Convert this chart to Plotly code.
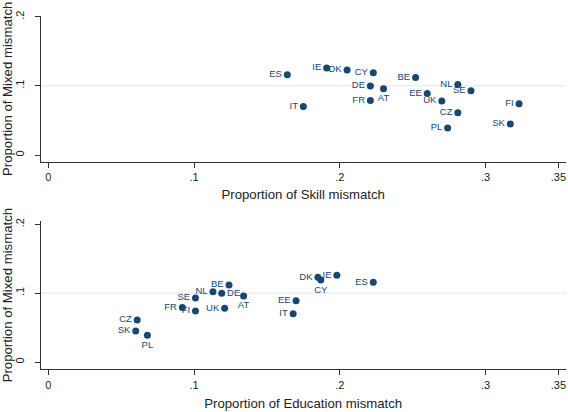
import plotly.graph_objects as go

countries = ["AT", "BE", "CY", "CZ", "DE", "DK", "EE", "ES", "FI", "FR",
             "IE", "IT", "NL", "PL", "SE", "SK", "UK"]
mixed_mismatch = [0.096, 0.112, 0.119, 0.061, 0.100, 0.123, 0.089, 0.116, 0.074, 0.079,
                  0.126, 0.070, 0.102, 0.039, 0.093, 0.045, 0.078]
skill_mismatch = [0.230, 0.252, 0.223, 0.281, 0.221, 0.205, 0.260, 0.164, 0.323, 0.221,
                  0.191, 0.175, 0.281, 0.274, 0.290, 0.317, 0.270]
education_mismatch = [0.134, 0.124, 0.187, 0.061, 0.119, 0.185, 0.170, 0.223, 0.101, 0.092,
                      0.198, 0.168, 0.113, 0.068, 0.101, 0.060, 0.121]
x_tickvals = [0, 0.1, 0.2, 0.3, 0.35]
x_ticktext = ["0", ".1", ".2", ".3", ".35"]
y_tickvals = [0, 0.1, 0.2]
y_ticktext = ["0", ".1", ".2"]

NAVY = "#1a476f"
FONT = "Arial, Liberation Sans, sans-serif"

top_label_pos = {"AT": "bottom center"}
bottom_label_pos = {"PL": "bottom center", "AT": "bottom center",
                    "CY": "bottom center", "DE": "middle right"}

def positions(special):
    return [special.get(c, "middle left") for c in countries]

fig = go.Figure()
fig.add_trace(go.Scatter(
    x=skill_mismatch, y=mixed_mismatch, text=countries, mode="markers+text",
    textposition=positions(top_label_pos),
    marker=dict(color=NAVY, size=7), textfont=dict(color=NAVY, size=9.5, family=FONT),
    xaxis="x", yaxis="y", showlegend=False, cliponaxis=False, hoverinfo="skip"))
fig.add_trace(go.Scatter(
    x=education_mismatch, y=mixed_mismatch, text=countries, mode="markers+text",
    textposition=positions(bottom_label_pos),
    marker=dict(color=NAVY, size=7), textfont=dict(color=NAVY, size=9.5, family=FONT),
    xaxis="x2", yaxis="y2", showlegend=False, cliponaxis=False, hoverinfo="skip"))

xdom = [40.7 / 568, 565.7 / 568]
axis_common = dict(showline=True, linecolor="#333", linewidth=1, ticks="outside",
                   ticklen=5, tickcolor="#333", showgrid=False, zeroline=False,
                   automargin=False,
                   tickfont=dict(size=11, family=FONT, color="#222"))
xtitle_font = dict(size=13.2, family=FONT, color="#222")

fig.update_layout(
    width=568, height=412, margin=dict(l=0, r=0, t=0, b=0),
    paper_bgcolor="white", plot_bgcolor="white",
    font=dict(family=FONT, color="#222"),
    xaxis=dict(domain=xdom, range=[-0.0052, 0.355], anchor="y",
               tickvals=x_tickvals, ticktext=x_ticktext,
               title=dict(text="Proportion of Skill mismatch", font=xtitle_font, standoff=7),
               **axis_common),
    yaxis=dict(domain=[1 - 162 / 412, 1 - 15.7 / 412], range=[-0.0101, 0.2015], anchor="x",
               tickvals=y_tickvals, ticktext=y_ticktext, tickangle=-90, ticklabelstandoff=6,
               title=dict(text="Proportion of Mixed mismatch", font=xtitle_font),
               **axis_common),
    xaxis2=dict(domain=xdom, range=[-0.0052, 0.355], anchor="y2",
                tickvals=x_tickvals, ticktext=x_ticktext,
                title=dict(text="Proportion of Education mismatch", font=xtitle_font, standoff=9),
                **axis_common),
    yaxis2=dict(domain=[1 - 369.3 / 412, 1 - 221 / 412], range=[-0.0106, 0.2048], anchor="x2",
                tickvals=y_tickvals, ticktext=y_ticktext, tickangle=-90, ticklabelstandoff=6,
                title=dict(text="Proportion of Mixed mismatch", font=xtitle_font),
                **axis_common),
    shapes=[
        dict(type="line", xref="x domain", x0=0, x1=1, yref="y", y0=0.1, y1=0.1,
             line=dict(color="#dce8ee", width=1), layer="below"),
        dict(type="line", xref="x2 domain", x0=0, x1=1, yref="y2", y0=0.1, y1=0.1,
             line=dict(color="#dce8ee", width=1), layer="below"),
    ],
)

fig.write_html("out.html", config={"displayModeBar": False, "staticPlot": True},
               post_script="document.body.style.margin='0';document.body.style.overflow='hidden';")
